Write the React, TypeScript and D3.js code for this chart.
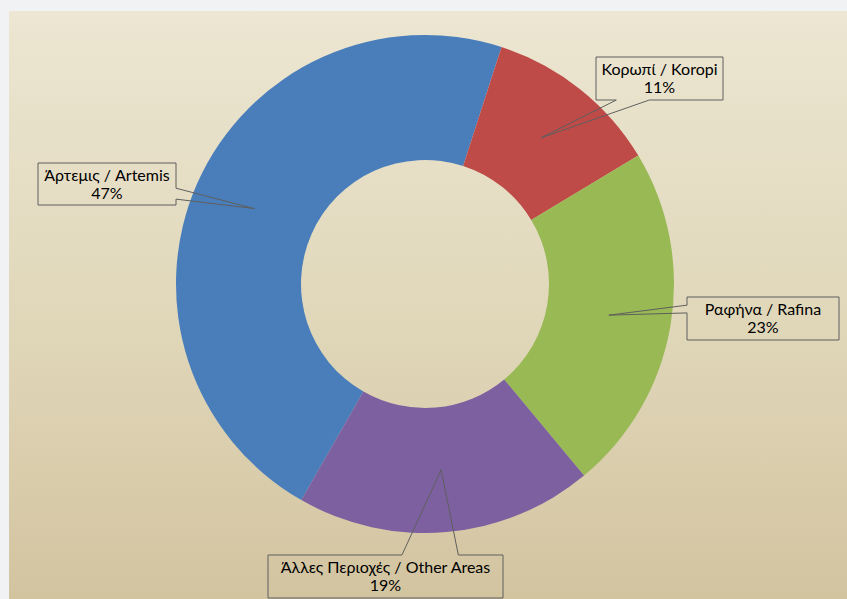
import React from "react";
import * as d3 from "d3";

// data
const categories = ["Άρτεμις / Artemis", "Κορωπί / Koropi", "Ραφήνα / Rafina", "Άλλες Περιοχές / Other Areas"];
const shares = [46.7, 11.4, 22.6, 19.3];
const pctLabels = ["47%", "11%", "23%", "19%"];
const colors = ["#4a7ebb", "#be4b48", "#98b954", "#7d60a0"];

// callout boxes (layout only)
const callouts = [
  { x: 38, y: 163, w: 138, h: 42, side: "right", base: [0.6, 0.86] },
  { x: 596, y: 57, w: 127, h: 43, side: "bottom", base: [0.16, 0.42] },
  { x: 687, y: 297, w: 152, h: 43, side: "left", base: [0.19, 0.37] },
  { x: 268, y: 555, w: 235, h: 43, side: "top", base: [0.57, 0.81] },
];

const W = 847;
const H = 599;
const cx = 425;
const cy = 284;
const outerR = 249;
const innerR = 124;
const rad = (deg: number) => (deg * Math.PI) / 180;

// Artemis ends at ~18deg past 12 o'clock
const start = rad(17.9 - shares[0] * 3.6);

function calloutPath(b: any, tip: [number, number]) {
  const { x, y, w, h, side, base } = b;
  const [a, c] = base;
  const t = `L${tip[0]},${tip[1]}`;
  let p = `M${x},${y}`;
  if (side === "top") p += `L${x + w * a},${y}${t}L${x + w * c},${y}`;
  p += `L${x + w},${y}`;
  if (side === "right") p += `L${x + w},${y + h * a}${t}L${x + w},${y + h * c}`;
  p += `L${x + w},${y + h}`;
  if (side === "bottom") p += `L${x + w * c},${y + h}${t}L${x + w * a},${y + h}`;
  p += `L${x},${y + h}`;
  if (side === "left") p += `L${x},${y + h * c}${t}L${x},${y + h * a}`;
  return p + "Z";
}

export default function App() {
  const pie = d3
    .pie<number>()
    .sort(null)
    .value((d) => d)
    .startAngle(start)
    .endAngle(start + 2 * Math.PI);
  const arcs = pie(shares);
  const arc = d3.arc<d3.PieArcDatum<number>>().innerRadius(innerR).outerRadius(outerR);

  return (
    <div style={{ position: "fixed", left: 0, top: 0 }}>
      <svg width={W} height={H} style={{ display: "block" }}>
        <defs>
          <linearGradient id="bg" x1="0" y1="0" x2="0" y2="1">
            <stop offset="0" stopColor="#ece6d2" />
            <stop offset="0.5" stopColor="#e1d8bb" />
            <stop offset="1" stopColor="#d3c4a0" />
          </linearGradient>
        </defs>
        <rect width={W} height={H} fill="#f0f2f4" />
        <rect x={9} y={11} width={W - 9} height={H - 11} fill="url(#bg)" />
        <g transform={`translate(${cx},${cy})`}>
          {arcs.map((d, i) => (
            <path key={categories[i]} d={arc(d) || ""} fill={colors[i]} />
          ))}
        </g>
        {arcs.map((d, i) => {
          const b = callouts[i];
          const c = arc.centroid(d);
          const tip: [number, number] = [cx + c[0], cy + c[1]];
          return (
            <g key={"lbl" + i} fontFamily="Lato, 'Open Sans', sans-serif" fontSize={16} fill="#000" textAnchor="middle">
              <path d={calloutPath(b, tip)} fill="none" stroke="#5f5f5f" strokeWidth={1} />
              <text x={b.x + b.w / 2} y={b.y + 18}>{categories[i]}</text>
              <text x={b.x + b.w / 2} y={b.y + 35.5}>{pctLabels[i]}</text>
            </g>
          );
        })}
      </svg>
    </div>
  );
}
